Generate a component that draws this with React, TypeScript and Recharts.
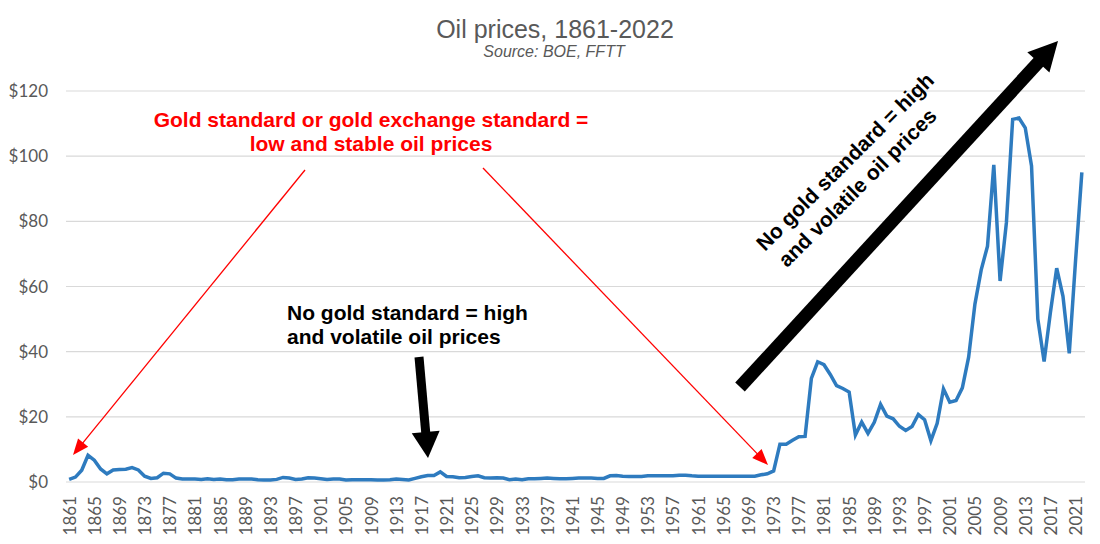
import React from "react";
import { LineChart, Line, XAxis, YAxis, CartesianGrid } from "recharts";

// annual oil price, USD per barrel, 1861 to 2022
const START_YEAR = 1861;

const prices = [
    // 1861-1880
    0.8, 1.5, 3.6, 8.2, 6.7, 4.0, 2.5, 3.7, 3.8, 3.9, 4.4, 3.7, 1.8, 1.1, 1.3, 2.7, 2.5, 1.2, 0.9, 0.9,
    // 1881-1900
    0.9, 0.8, 1.0, 0.8, 0.9, 0.7, 0.7, 0.9, 0.9, 0.9, 0.7, 0.6, 0.6, 0.8, 1.4, 1.2, 0.8, 0.9, 1.3, 1.2,
    // 1901-1920
    1.0, 0.8, 0.9, 0.9, 0.6, 0.7, 0.7, 0.7, 0.7, 0.6, 0.6, 0.7, 0.9, 0.8, 0.6, 1.1, 1.6, 2.0, 2.0, 3.1,
    // 1921-1940
    1.7, 1.6, 1.3, 1.4, 1.7, 1.9, 1.3, 1.2, 1.3, 1.2, 0.7, 0.9, 0.7, 1.0, 1.0, 1.1, 1.2, 1.1, 1.0, 1.0,
    // 1941-1960
    1.1, 1.2, 1.2, 1.2, 1.1, 1.1, 1.9, 2.0, 1.8, 1.7, 1.7, 1.7, 1.9, 1.9, 1.9, 1.9, 1.9, 2.1, 2.1, 1.9,
    // 1961-1980
    1.8, 1.8, 1.8, 1.8, 1.8, 1.8, 1.8, 1.8, 1.8, 1.8, 2.2, 2.5, 3.4, 11.6, 11.6, 12.8, 13.9, 14.0, 31.8, 36.9,
    // 1981-2000
    36.0, 33.0, 29.6, 28.7, 27.6, 14.4, 18.4, 14.9, 18.3, 23.8, 20.2, 19.4, 17.1, 15.8, 17.0, 20.7, 19.1, 12.7, 18.0, 28.6,
    // 2001-2022
    24.5, 25.0, 28.9, 38.3, 54.6, 65.1, 72.4, 97.3, 61.7, 79.5, 111.3, 111.7, 108.7, 97.0, 50.0, 37.0, 52.0, 65.6, 57.0, 39.5,
    68.0, 95.0,
];

const yearTicks = [
    1861, 1865, 1869, 1873, 1877, 1881, 1885, 1889, 1893, 1897, 1901, 1905, 1909, 1913, 1917, 1921, 1925, 1929, 1933,
    1937, 1941, 1945, 1949, 1953, 1957, 1961, 1965, 1969, 1973, 1977, 1981, 1985, 1989, 1993, 1997, 2001, 2005, 2009,
    2013, 2017, 2021,
];

const priceTicks = [0, 20, 40, 60, 80, 100, 120];

const data = prices.map((price, i) => ({ year: START_YEAR + i, price }));

const LINE_COLOR = "#2E7BBF";
const TEXT_GRAY = "#595959";

function YearTick(props: any) {
    const { x, y, payload } = props;
    const ty = y + 6;
    return (
        <text
            x={x}
            y={ty}
            transform={`rotate(-90 ${x} ${ty})`}
            textAnchor="end"
            dominantBaseline="central"
            fill={TEXT_GRAY}
            fontSize={17}
            fontFamily="Lato, sans-serif"
        >
            {payload.value}
        </text>
    );
}

// triangle for an arrow tip at (x2, y2) pointing away from (x1, y1)
function headPoints(x1: number, y1: number, x2: number, y2: number, len: number, w: number) {
    const a = Math.atan2(y2 - y1, x2 - x1);
    const bx = x2 - len * Math.cos(a);
    const by = y2 - len * Math.sin(a);
    const px = (w / 2) * Math.sin(a);
    const py = (w / 2) * -Math.cos(a);
    return `${x2},${y2} ${bx + px},${by + py} ${bx - px},${by - py}`;
}

function Arrow({ x1, y1, x2, y2, color, width, len, headW }: any) {
    const a = Math.atan2(y2 - y1, x2 - x1);
    const ex = x2 - (len - 2) * Math.cos(a);
    const ey = y2 - (len - 2) * Math.sin(a);
    return (
        <g>
            <line x1={x1} y1={y1} x2={ex} y2={ey} stroke={color} strokeWidth={width} />
            <polygon points={headPoints(x1, y1, x2, y2, len, headW)} fill={color} />
        </g>
    );
}

function Annotations() {
    const bold = { fontFamily: "'Liberation Sans', Arial, sans-serif", fontWeight: 700, fontSize: 21 };
    return (
        <svg width={1100} height={544} style={{ position: "absolute", left: 0, top: 0, pointerEvents: "none" }}>
            {/* title */}
            <text x={555} y={38} textAnchor="middle" fill={TEXT_GRAY} fontSize={25} fontFamily="'Liberation Sans', Arial, sans-serif">
                Oil prices, 1861-2022
            </text>
            <text x={554} y={57} textAnchor="middle" fill={TEXT_GRAY} fontSize={16} fontStyle="italic" fontFamily="'Liberation Sans', Arial, sans-serif">
                Source: BOE, FFTT
            </text>

            {/* gold standard periods */}
            <text x={371} y={127} textAnchor="middle" fill="#FF0000" {...bold}>
                Gold standard or gold exchange standard =
            </text>
            <text x={371} y={151} textAnchor="middle" fill="#FF0000" {...bold}>
                low and stable oil prices
            </text>
            <Arrow x1={305} y1={170} x2={73} y2={455} color="#FF0000" width={1.3} len={16} headW={13} />
            <Arrow x1={483} y1={168} x2={768} y2={465} color="#FF0000" width={1.3} len={16} headW={13} />

            {/* interwar period */}
            <text x={287} y={320} fill="#000" {...bold}>
                No gold standard = high
            </text>
            <text x={287} y={344} fill="#000" {...bold}>
                and volatile oil prices
            </text>
            <Arrow x1={419} y1={357} x2={428} y2={458} color="#000" width={9} len={26} headW={28} />

            {/* post 1971 */}
            <Arrow x1={740} y1={387} x2={1058} y2={41} color="#000" width={13} len={29} headW={30} />
            <g transform="translate(765 252) rotate(-45)">
                <text x={0} y={0} fill="#000" {...bold}>
                    No gold standard = high
                </text>
                <text x={4} y={27} fill="#000" {...bold}>
                    and volatile oil prices
                </text>
            </g>
        </svg>
    );
}

export default function App() {
    return (
        <div style={{ position: "absolute", left: 0, top: 0, width: 1100, height: 544, background: "#fff" }}>
            <LineChart width={1100} height={544} data={data} margin={{ top: 91, right: 15, bottom: 7, left: 0 }}>
                <CartesianGrid vertical={false} stroke="#D9D9D9" strokeWidth={1.2} />
                <XAxis
                    dataKey="year"
                    type="number"
                    domain={[1860.5, 2022.5]}
                    ticks={yearTicks}
                    interval={0}
                    height={55}
                    axisLine={false}
                    tickLine={false}
                    tick={<YearTick />}
                />
                <YAxis
                    domain={[0, 120]}
                    ticks={priceTicks}
                    width={66}
                    axisLine={false}
                    tickLine={false}
                    tickSize={6}
                    tickMargin={12}
                    tickFormatter={(v: number) => `$${v}`}
                    tick={{ fill: TEXT_GRAY, fontSize: 17, fontFamily: "Lato, sans-serif" }}
                />
                <Line
                    type="linear"
                    dataKey="price"
                    stroke={LINE_COLOR}
                    strokeWidth={3.5}
                    dot={false}
                    isAnimationActive={false}
                />
            </LineChart>
            <Annotations />
        </div>
    );
}
